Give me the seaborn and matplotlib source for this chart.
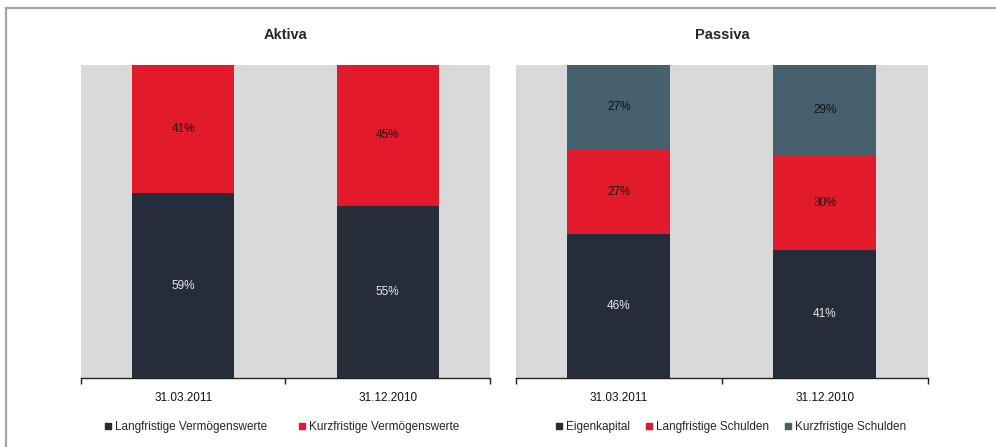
import numpy as np
import pandas as pd
import matplotlib.pyplot as plt
import seaborn as sns
from matplotlib.lines import Line2D
from matplotlib.patches import Rectangle

# Data
dates = ["31.03.2011", "31.12.2010"]

aktiva_labels = ["Langfristige Vermögenswerte", "Kurzfristige Vermögenswerte"]
aktiva_lang = [59, 55]
aktiva_kurz = [41, 45]

passiva_labels = ["Eigenkapital", "Langfristige Schulden", "Kurzfristige Schulden"]
passiva_eigen = [46, 41]
passiva_lang = [27, 30]
passiva_kurz = [27, 29]

dark = "#262d3a"
red = "#e31a2b"
slate = "#46606e"

sns.set_theme(style="white")
plt.rcParams["font.family"] = ["Liberation Sans", "DejaVu Sans"]

fig = plt.figure(figsize=(9.96, 4.47), dpi=100)
ax1 = fig.add_axes([0.0813, 0.1544, 0.4106, 0.7002])
ax2 = fig.add_axes([0.518, 0.1544, 0.4137, 0.7002])

# grey frame round the whole chart
fig.patches.append(Rectangle((5.5 / 996, -0.05), 1.2, (447 - 7.5) / 447 + 0.05,
                             transform=fig.transFigure, fill=False,
                             edgecolor="#a6a6a6", lw=1.6))


def stacked(ax, layers, colors, labels, text_colors, title, legend_x, colsp):
    layers = [np.array(l, dtype=float) for l in layers]
    cums = np.cumsum(layers, axis=0)
    # draw from the top layer down so lower bars cover upper ones
    for i in range(len(layers) - 1, -1, -1):
        df = pd.DataFrame({"date": dates, "value": cums[i]})
        sns.barplot(data=df, x="date", y="value", color=colors[i], width=0.5,
                    saturation=1, ax=ax, edgecolor="none")
    for i in range(len(layers)):
        base = cums[i] - layers[i]
        for j in range(len(dates)):
            ax.text(j, base[j] + layers[i][j] / 2, f"{layers[i][j]:.0f}%",
                    ha="center", va="center", fontsize=8.5, color=text_colors[i])
    ax.set_facecolor("#d9d9d9")
    ax.set_xlim(-0.5, 1.5)
    ax.set_ylim(0, 100)
    ax.set_yticks([])
    ax.set_xlabel("")
    ax.set_ylabel("")
    for s in ["left", "right", "top"]:
        ax.spines[s].set_visible(False)
    ax.spines["bottom"].set_color("#222222")
    ax.spines["bottom"].set_linewidth(1.0)
    ax.set_xticks([-0.5, 0.5, 1.5], minor=True)
    ax.tick_params(axis="x", which="minor", length=4, width=1, color="#222222",
                   bottom=True, direction="out")
    ax.tick_params(axis="x", which="major", length=0, pad=10, labelsize=8.5,
                   labelcolor="#111111")
    ax.set_title(title, fontsize=10.5, fontweight="bold", pad=19)
    handles = [Line2D([], [], marker="s", linestyle="none", markersize=5,
                      markerfacecolor=c, markeredgecolor=c) for c in colors]
    ax.legend(handles, labels, loc="center", bbox_to_anchor=(legend_x, -0.158),
              ncol=len(labels), frameon=False, fontsize=8.5, handletextpad=0.2,
              columnspacing=colsp, handlelength=0.8)


stacked(ax1, [aktiva_lang, aktiva_kurz], [dark, red], aktiva_labels,
        ["#e8e8e8", "#111111"], "Aktiva", 0.49, 2.6)
stacked(ax2, [passiva_eigen, passiva_lang, passiva_kurz], [dark, red, slate],
        passiva_labels, ["#e8e8e8", "#111111", "#111111"], "Passiva", 0.52, 1.2)

fig.savefig("out.png", dpi=100)
